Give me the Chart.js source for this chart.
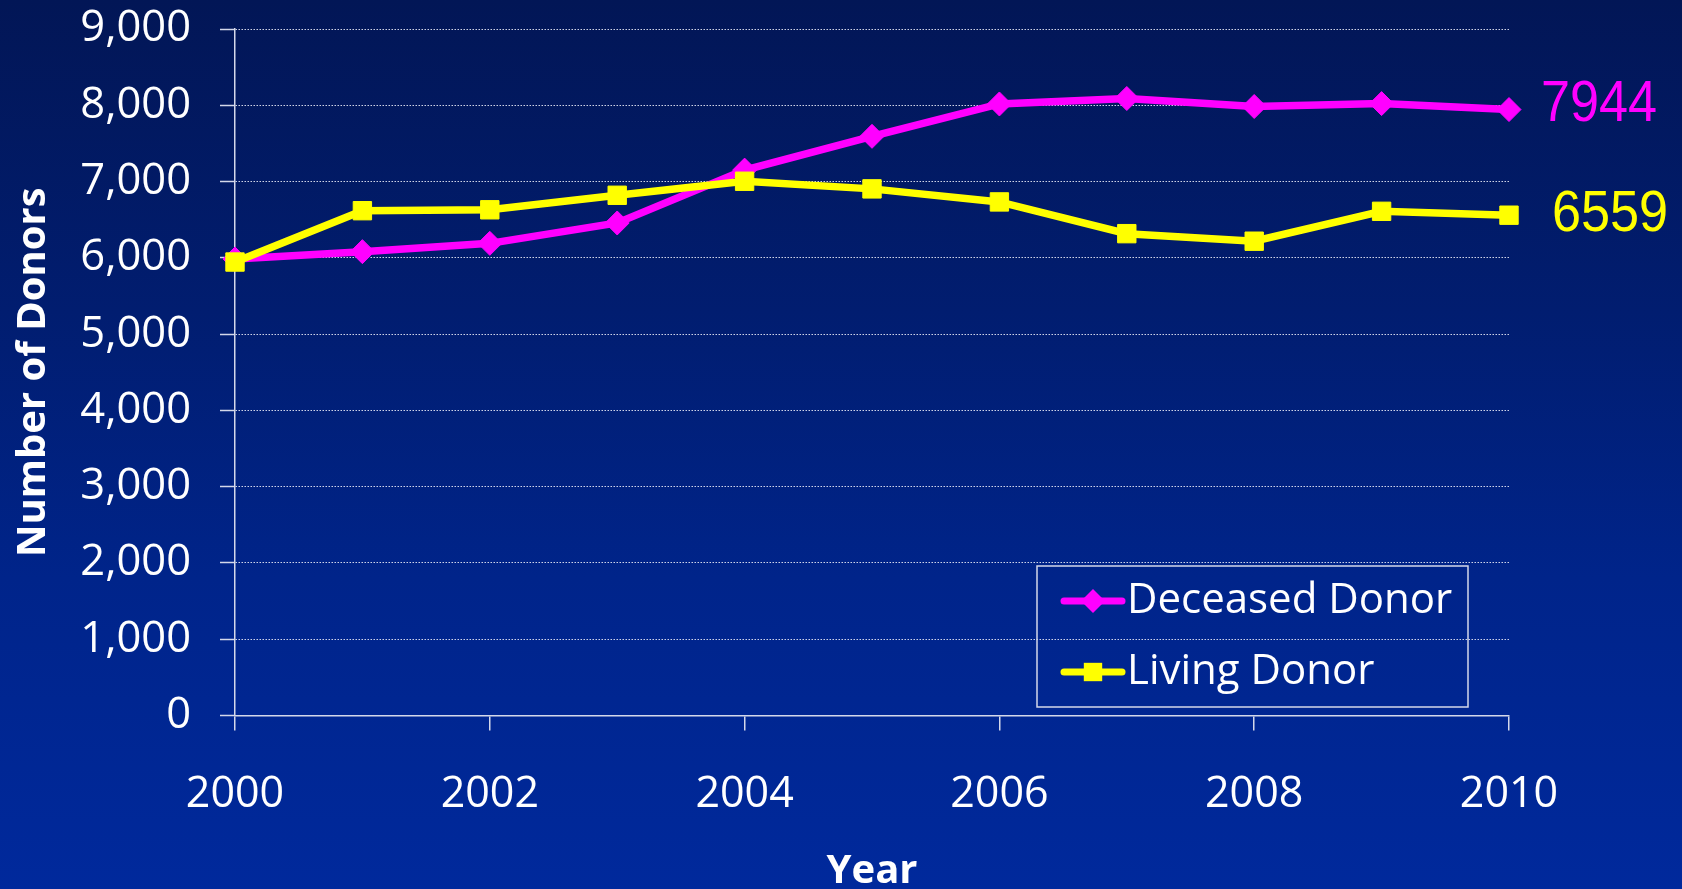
<!DOCTYPE html>
<html>
<head>
<meta charset="utf-8">
<title>Deceased and Living Donors, 2000-2010</title>
<script src="https://cdn.jsdelivr.net/npm/chart.js@4.4.1/dist/chart.umd.min.js"></script>
<style>
  html, body { margin: 0; padding: 0; }
  body {
    width: 1682px; height: 889px; overflow: hidden;
    background: linear-gradient(180deg, #021656 0%, #011d70 35%, #00248a 65%, #00299c 100%);
  }
  .wrap { position: relative; width: 1682px; height: 889px; }
</style>
</head>
<body>
<div class="wrap"><canvas id="donors"></canvas></div>
<script>
var years = [2000, 2001, 2002, 2003, 2004, 2005, 2006, 2007, 2008, 2009, 2010];
var deceasedDonors = [5985, 6081, 6190, 6457, 7150, 7593, 8017, 8089, 7984, 8022, 7944];
var livingDonors = [5945, 6618, 6630, 6820, 7004, 6904, 6733, 6317, 6218, 6610, 6559];
var seriesNames = ['Deceased Donor', 'Living Donor'];
var yTicks = [0, 1000, 2000, 3000, 4000, 5000, 6000, 7000, 8000, 9000];

var axisColor = '#d4d8ea';
var gridColor = 'rgba(230, 232, 244, 0.9)';

function points(values) {
  return years.map(function (yr, i) { return { x: yr, y: values[i] }; });
}

// little markers shared by the legend
function marker(ctx, style, r, x, y) {
  ctx.beginPath();
  if (style === 'rectRot') {
    ctx.moveTo(x, y - r); ctx.lineTo(x + r, y); ctx.lineTo(x, y + r); ctx.lineTo(x - r, y);
  } else {
    var s = r * Math.SQRT1_2;
    ctx.rect(x - s, y - s, s * 2, s * 2);
  }
  ctx.closePath();
  ctx.fill();
}

// value of the last point written just right of the plot
var endLabels = {
  id: 'endLabels',
  afterDatasetsDraw: function (chart, args, o) {
    var ctx = chart.ctx, ys = chart.scales.y, area = chart.chartArea;
    chart.data.datasets.forEach(function (ds, i) {
      var last = ds.data[ds.data.length - 1].y;
      ctx.save();
      ctx.translate(area.right + o.dx[i], ys.getPixelForValue(last) + o.dy[i]);
      ctx.scale(0.9, 1);
      ctx.font = '58px "Liberation Sans", Arial, sans-serif';
      ctx.fillStyle = ds.borderColor;
      ctx.textBaseline = 'middle';
      ctx.fillText(String(last), 0, 0);
      ctx.restore();
    });
  }
};

// boxed legend with a line-and-marker swatch per series
var boxLegend = {
  id: 'boxLegend',
  afterDraw: function (chart, args, o) {
    var ctx = chart.ctx;
    ctx.save();
    ctx.strokeStyle = axisColor;
    ctx.lineWidth = 1.5;
    ctx.strokeRect(o.x, o.y, o.w, o.h);
    chart.data.datasets.forEach(function (ds, i) {
      var cy = o.y + o.firstRow + i * o.rowGap;
      var x0 = o.x + o.lineStart, x1 = x0 + o.lineLen;
      ctx.strokeStyle = ds.borderColor;
      ctx.lineWidth = 7;
      ctx.lineCap = 'round';
      ctx.beginPath(); ctx.moveTo(x0, cy); ctx.lineTo(x1, cy); ctx.stroke();
      ctx.fillStyle = ds.borderColor;
      marker(ctx, ds.pointStyle, ds.pointRadius, (x0 + x1) / 2, cy);
      ctx.fillStyle = '#ffffff';
      ctx.font = '42px "Open Sans", sans-serif';
      ctx.textBaseline = 'middle';
      ctx.fillText(ds.label, o.x + o.textX, cy);
    });
    ctx.restore();
  }
};

new Chart(document.getElementById('donors'), {
  type: 'line',
  data: {
    datasets: [{
      label: seriesNames[0],
      data: points(deceasedDonors),
      borderColor: '#ff00ff',
      backgroundColor: '#ff00ff',
      borderWidth: 7.5,
      pointStyle: 'rectRot',
      pointRadius: 12,
      pointBorderWidth: 1,
      tension: 0,
      clip: false,
      order: 2
    }, {
      label: seriesNames[1],
      data: points(livingDonors),
      borderColor: '#ffff00',
      backgroundColor: '#ffff00',
      borderWidth: 7.5,
      pointStyle: 'rect',
      pointRadius: 13,
      pointBorderWidth: 1,
      tension: 0,
      clip: false,
      order: 1
    }]
  },
  options: {
    responsive: true,
    maintainAspectRatio: false,
    animation: false,
    layout: { padding: { top: 29, right: 173, left: 0, bottom: 0 } },
    plugins: {
      legend: { display: false },
      tooltip: { enabled: false },
      endLabels: { dx: [32, 43], dy: [-5, 0] },
      boxLegend: { x: 1037, y: 566, w: 431, h: 141, firstRow: 35, rowGap: 71, lineStart: 27, lineLen: 58, textX: 90 }
    },
    scales: {
      x: {
        type: 'linear',
        min: 2000,
        max: 2010,
        afterFit: function (s) { s.height = 173.5; },
        ticks: {
          stepSize: 2,
          color: '#ffffff',
          padding: 38,
          maxRotation: 0,
          font: { family: 'Open Sans', size: 43, lineHeight: 1.2 },
          callback: function (v) { return String(v); }
        },
        grid: { drawOnChartArea: false, color: axisColor, lineWidth: 1.5, tickLength: 15 },
        border: { color: axisColor, width: 1.5 },
        title: {
          display: true,
          text: 'Year',
          color: '#ffffff',
          padding: { top: 0, bottom: 0 },
          font: { family: 'Open Sans', size: 40, weight: 'bold', lineHeight: 0.85 }
        }
      },
      y: {
        min: 0,
        max: 9000,
        afterFit: function (s) { s.width = 235; s.paddingTop = 0; s.paddingBottom = 0; },
        afterBuildTicks: function (s) { s.ticks = yTicks.map(function (v) { return { value: v }; }); },
        ticks: {
          color: '#ffffff',
          padding: 29,
          font: { family: 'Open Sans', size: 43.5, lineHeight: 1.2 },
          callback: function (v) { return v.toLocaleString('en-US'); }
        },
        grid: { color: gridColor, lineWidth: 1, tickLength: 15, tickColor: axisColor, tickWidth: 1.5 },
        border: { color: axisColor, width: 1.5, dash: [1.5, 1.5] },
        title: {
          display: true,
          text: 'Number of Donors',
          color: '#ffffff',
          padding: { top: 10, bottom: 0 },
          font: { family: 'Open Sans', size: 40, weight: 'bold', lineHeight: 1.2 }
        }
      }
    }
  },
  plugins: [endLabels, boxLegend]
});
</script>
</body>
</html>
